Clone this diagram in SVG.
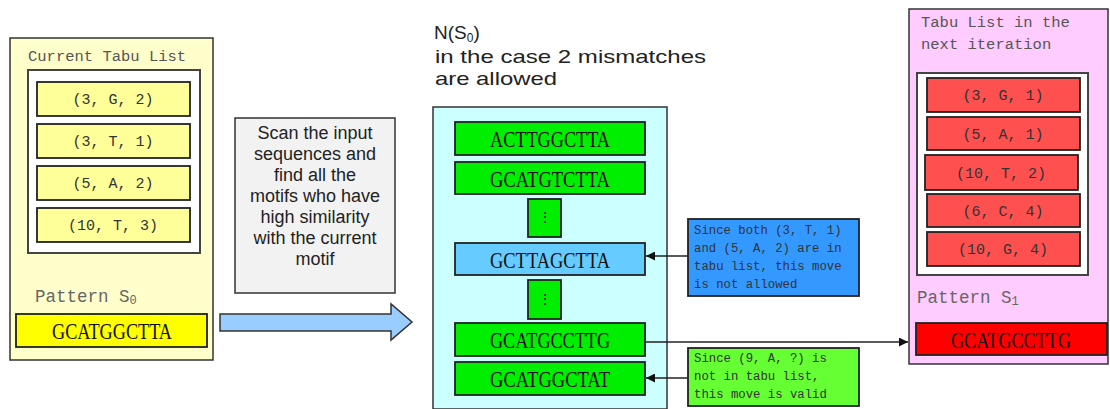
<svg xmlns="http://www.w3.org/2000/svg" width="1110" height="409" viewBox="0 0 1110 409">
<defs>
<style>
.panel{stroke:#333;stroke-width:1.5}
.inner{fill:#fff;stroke:#444;stroke-width:2}
.item{stroke:#222;stroke-width:1.8}
.mono{font-family:"Liberation Mono","DejaVu Sans Mono",monospace}
.ser{font-family:"Liberation Serif","DejaVu Serif",serif}
.sans{font-family:"Liberation Sans",Arial,sans-serif}
.tuple{font-size:15px;fill:#333;text-anchor:middle}
.seq{font-size:23px;fill:#111;text-anchor:middle}
.note{font-size:12.3px;fill:#333}
.conn{stroke:#222;stroke-width:1.5;fill:none}
</style>
<marker id="ah" viewBox="0 0 10 10" refX="10" refY="5" markerWidth="9" markerHeight="9" markerUnits="userSpaceOnUse" orient="auto">
<path d="M0,0 L10,5 L0,10 z" fill="#111"/>
</marker>
</defs>
<rect width="1110" height="409" fill="#fff"/>

<g id="current-tabu">
<rect class="panel" x="10" y="38" width="203" height="322" fill="#ffffcc"/>
<text class="mono" x="28" y="61" font-size="15.5" fill="#555">Current Tabu List</text>
<rect class="inner" x="28" y="70" width="172" height="183"/>
<rect class="item" x="37" y="82" width="153" height="34" fill="#ffff99"/>
<text class="mono tuple" x="113" y="104">(3, G, 2)</text>
<rect class="item" x="37" y="124" width="153" height="34" fill="#ffff99"/>
<text class="mono tuple" x="113" y="146">(3, T, 1)</text>
<rect class="item" x="37" y="166" width="153" height="34" fill="#ffff99"/>
<text class="mono tuple" x="113" y="188">(5, A, 2)</text>
<rect class="item" x="37" y="208" width="153" height="34" fill="#ffff99"/>
<text class="mono tuple" x="113" y="230">(10, T, 3)</text>
<text class="mono" x="35" y="302" font-size="17.5" fill="#666">Pattern S<tspan font-size="12" dy="2">0</tspan></text>
<rect class="item" x="16" y="314" width="191" height="33" fill="#ffff00"/>
<text class="ser seq" x="112" y="339" textLength="120" lengthAdjust="spacingAndGlyphs">GCATGGCTTA</text>
</g>

<g id="scan-step">
<rect x="235" y="118" width="160" height="175" fill="#f2f2f2" stroke="#333" stroke-width="1.5"/>
<g class="sans" font-size="18" fill="#222" text-anchor="middle">
<text x="315" y="139">Scan the input</text>
<text x="315" y="160">sequences and</text>
<text x="315" y="181">find all the</text>
<text x="315" y="202">motifs who have</text>
<text x="315" y="223">high similarity</text>
<text x="315" y="244">with the current</text>
<text x="315" y="265">motif</text>
</g>
<path d="M220,314 L391,314 L391,304 L412,322 L391,340 L391,331 L220,331 Z" fill="#99ccff" stroke="#333" stroke-width="1.5"/>
</g>

<g id="neighborhood">
<text class="sans" x="434" y="39" font-size="19" fill="#222">N(S<tspan font-size="12" dy="3">0</tspan><tspan dy="-3">)</tspan></text>
<text class="sans" x="435" y="63" font-size="19" fill="#222" textLength="271" lengthAdjust="spacingAndGlyphs">in the case 2 mismatches</text>
<text class="sans" x="435" y="85" font-size="19" fill="#222" textLength="122" lengthAdjust="spacingAndGlyphs">are allowed</text>
<rect class="panel" x="433" y="107" width="234" height="302" fill="#ccffff"/>
<rect class="item" x="455" y="122" width="190" height="33" fill="#00ee00"/>
<text class="ser seq" x="550" y="147" textLength="120" lengthAdjust="spacingAndGlyphs">ACTTGGCTTA</text>
<rect class="item" x="455" y="162" width="190" height="32" fill="#00ee00"/>
<text class="ser seq" x="550" y="187" textLength="120" lengthAdjust="spacingAndGlyphs">GCATGTCTTA</text>
<rect class="item" x="528" y="199" width="33" height="38" fill="#00ee00"/>
<text class="ser" x="544.5" y="222" font-size="14" text-anchor="middle" fill="#111">⋮</text>
<rect class="item" x="455" y="243" width="190" height="32" fill="#66ccff"/>
<text class="ser seq" x="550" y="268" fill="#333" textLength="120" lengthAdjust="spacingAndGlyphs">GCTTAGCTTA</text>
<rect class="item" x="528" y="280" width="33" height="39" fill="#00ee00"/>
<text class="ser" x="544.5" y="304" font-size="14" text-anchor="middle" fill="#111">⋮</text>
<rect class="item" x="455" y="323" width="190" height="33" fill="#00ee00"/>
<text class="ser seq" x="550" y="348" textLength="120" lengthAdjust="spacingAndGlyphs">GCATGCCTTG</text>
<rect class="item" x="455" y="362" width="190" height="33" fill="#00ee00"/>
<text class="ser seq" x="550" y="387" textLength="120" lengthAdjust="spacingAndGlyphs">GCATGGCTAT</text>
</g>

<g id="note-blocked">
<rect x="688" y="219" width="171" height="77" fill="#3399ff" stroke="#222" stroke-width="1.8"/>
<g class="mono note">
<text x="694" y="234">Since both (3, T, 1)</text>
<text x="694" y="252">and (5, A, 2) are in</text>
<text x="694" y="270">tabu list, this move</text>
<text x="694" y="288">is not allowed</text>
</g>
</g>

<g id="note-valid">
<rect x="688" y="348" width="171" height="58" fill="#66ff33" stroke="#222" stroke-width="1.8"/>
<g class="mono note">
<text x="694" y="362">Since (9, A, ?) is</text>
<text x="694" y="380">not in tabu list,</text>
<text x="694" y="398">this move is valid</text>
</g>
</g>

<g id="next-tabu">
<rect class="panel" x="909" y="9" width="199" height="355" fill="#ffccff"/>
<text class="mono" x="921" y="27" font-size="15.5" fill="#555">Tabu List in the</text>
<text class="mono" x="921" y="49" font-size="15.5" fill="#555">next iteration</text>
<rect class="inner" x="917" y="73" width="171" height="202"/>
<rect class="item" x="927" y="78" width="153" height="34" fill="#ff5050"/>
<text class="mono tuple" x="1003" y="100">(3, G, 1)</text>
<rect class="item" x="927" y="117" width="153" height="33" fill="#ff5050"/>
<text class="mono tuple" x="1003" y="139">(5, A, 1)</text>
<rect class="item" x="925" y="155" width="153" height="35" fill="#ff5050"/>
<text class="mono tuple" x="1001" y="178">(10, T, 2)</text>
<rect class="item" x="927" y="194" width="153" height="33" fill="#ff5050"/>
<text class="mono tuple" x="1003" y="216">(6, C, 4)</text>
<rect class="item" x="927" y="232" width="153" height="34" fill="#ff5050"/>
<text class="mono tuple" x="1003" y="254">(10, G, 4)</text>
<text class="mono" x="917" y="303" font-size="17.5" fill="#666">Pattern S<tspan font-size="12" dy="2">1</tspan></text>
<rect class="item" x="916" y="323" width="191" height="32" fill="#ff0000"/>
<text class="ser seq" x="1011" y="348" textLength="120" lengthAdjust="spacingAndGlyphs">GCATGCCTTG</text>
</g>

<g id="connectors">
<line class="conn" x1="688" y1="256" x2="646" y2="256" marker-end="url(#ah)"/>
<line class="conn" x1="688" y1="378" x2="646" y2="378" marker-end="url(#ah)"/>
<line class="conn" x1="645" y1="342" x2="908" y2="342" marker-end="url(#ah)"/>
</g>
</svg>
